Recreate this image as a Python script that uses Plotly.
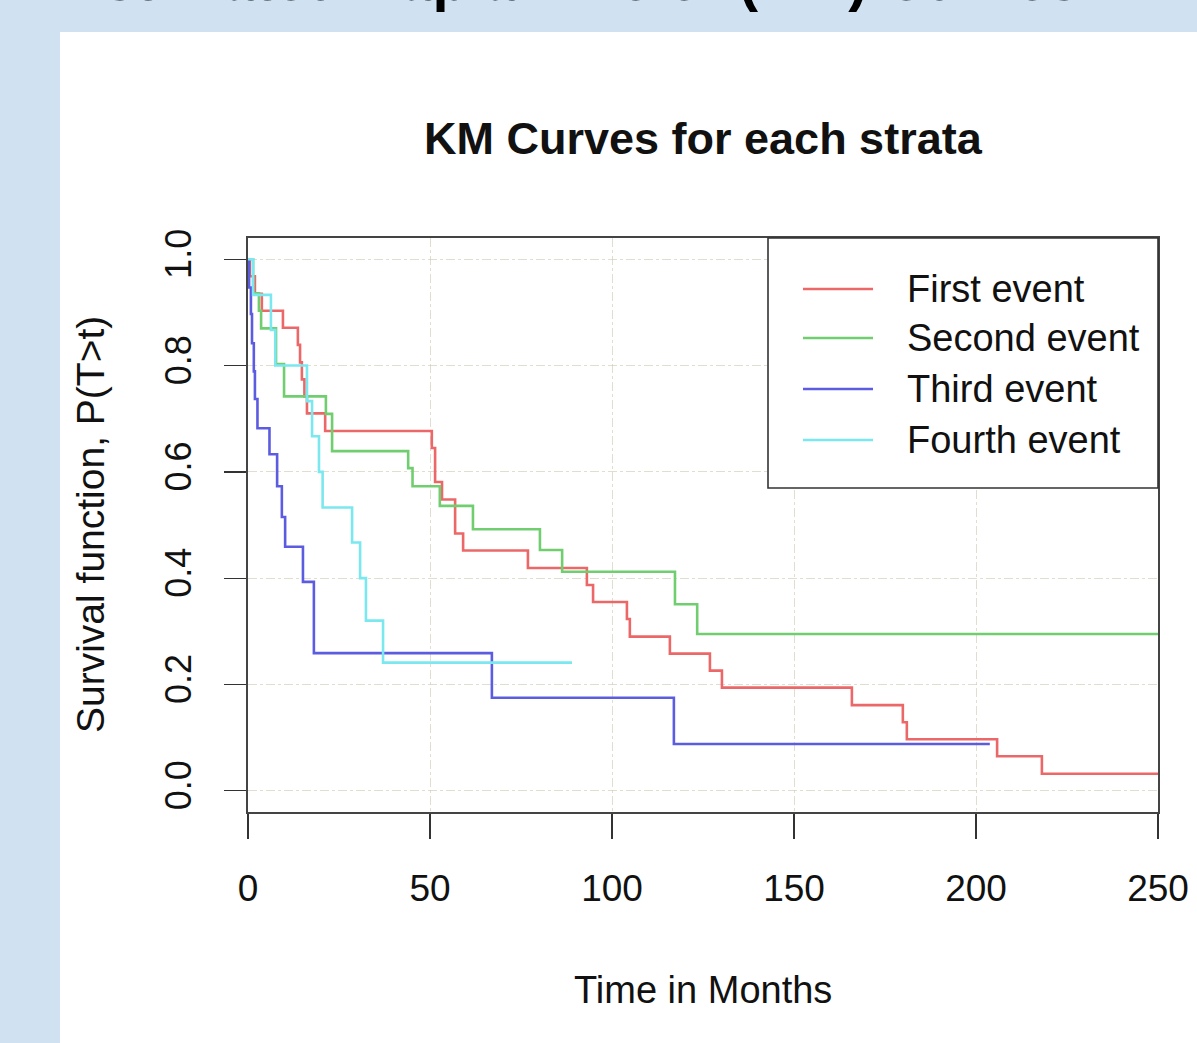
import plotly.graph_objects as go

# ---------------- data ----------------
first_t = [0, 0.5, 1.9, 3.8, 9.6, 13.7, 14.3, 14.8, 15.5, 16.2, 21.2, 50.5, 51.4, 53.3, 56.9, 59.1,
           76.9, 93.1, 94.8, 104.1, 104.9, 115.9, 126.9, 130.2, 165.9, 179.9, 181.0, 205.8, 218.1, 250]
first_s = [1.0, 0.968, 0.935, 0.903, 0.871, 0.839, 0.806, 0.774, 0.742, 0.710, 0.677, 0.645, 0.581, 0.548, 0.484, 0.452,
           0.419, 0.387, 0.355, 0.323, 0.290, 0.258, 0.226, 0.194, 0.161, 0.129, 0.097, 0.065, 0.032, 0.032]

second_t = [0, 1.4, 3.0, 3.6, 7.7, 9.9, 21.4, 23.1, 44.0, 45.2, 52.7, 61.8, 80.2, 86.3, 117.3, 123.4, 250]
second_s = [1.0, 0.936, 0.903, 0.870, 0.803, 0.742, 0.709, 0.639, 0.607, 0.573, 0.536, 0.492, 0.453, 0.412, 0.351, 0.295, 0.295]

third_t = [0, 0.3, 0.8, 1.1, 1.6, 1.9, 2.6, 5.9, 8.0, 9.3, 10.2, 15.1, 18.1, 67.0, 117.0, 203.8]
third_s = [1.0, 0.947, 0.897, 0.842, 0.789, 0.737, 0.682, 0.633, 0.573, 0.515, 0.459, 0.393, 0.259, 0.175, 0.088, 0.088]

fourth_t = [0, 1.4, 6.3, 7.5, 16.2, 17.6, 19.5, 20.5, 28.6, 30.8, 32.4, 37.1, 89.0]
fourth_s = [1.0, 0.933, 0.867, 0.800, 0.733, 0.667, 0.600, 0.533, 0.467, 0.400, 0.320, 0.241, 0.241]

series_names = ["First event", "Second event", "Third event", "Fourth event"]
series_colors = ["rgb(236,104,104)", "rgb(112,206,112)", "rgb(92,92,224)", "rgb(122,232,238)"]

x_ticks = [0, 50, 100, 150, 200, 250]
x_tick_labels = ["0", "50", "100", "150", "200", "250"]
y_ticks = [0.0, 0.2, 0.4, 0.6, 0.8, 1.0]
y_tick_labels = ["0.0", "0.2", "0.4", "0.6", "0.8", "1.0"]

page_title = "Estimated Kaplan-Meier (KM) Curves"
chart_title = "KM Curves for each strata"
x_title = "Time in Months"
y_title = "Survival function, P(T>t)"

# ---------------- figure ----------------
FONT = "Liberation Sans, Arial, Helvetica, sans-serif"
fig = go.Figure()

all_t = [first_t, second_t, third_t, fourth_t]
all_s = [first_s, second_s, third_s, fourth_s]
for name, t, s, c in zip(series_names, all_t, all_s, series_colors):
    fig.add_trace(go.Scatter(x=t, y=s, mode="lines", name=name,
                             line=dict(shape="hv", color=c, width=2.6),
                             showlegend=False, hoverinfo="skip"))

W, H = 1197, 1043
L, R, T, B = 248, 39, 238, 231
pw, ph = W - L - R, H - T - B


def px(xp):
    return (xp - L) / pw


def py(yp):
    return (H - B - yp) / ph


shapes = []
# white slide panel
shapes.append(dict(type="rect", xref="paper", yref="paper", x0=px(60), x1=px(1210),
                   y0=py(1060), y1=py(32), fillcolor="white", line=dict(width=0), layer="below"))
# manual legend box
shapes.append(dict(type="rect", xref="paper", yref="paper", x0=px(768), x1=1.0,
                   y0=py(488), y1=1.0, fillcolor="white",
                   line=dict(color="#333333", width=1.6), layer="above"))
annotations = []
row_y = [289, 338, 389, 440]
for name, c, ry in zip(series_names, series_colors, row_y):
    shapes.append(dict(type="line", xref="paper", yref="paper", x0=px(803), x1=px(873),
                       y0=py(ry), y1=py(ry), line=dict(color=c, width=2.6), layer="above"))
    annotations.append(dict(text=name, xref="paper", yref="paper", x=px(905), y=py(ry),
                            xanchor="left", yanchor="middle", showarrow=False,
                            font=dict(family=FONT, size=38, color="#111111")))

annotations += [
    dict(text="<b>" + page_title + "</b>", xref="paper", yref="paper", x=px(63), y=py(14),
         xanchor="left", yanchor="bottom", showarrow=False,
         font=dict(family=FONT, size=58, color="black")),
    dict(text="<b>" + chart_title + "</b>", xref="paper", yref="paper", x=0.5, y=py(138),
         xanchor="center", yanchor="middle", showarrow=False,
         font=dict(family=FONT, size=45, color="#111111")),
    dict(text=x_title, xref="paper", yref="paper", x=0.5, y=py(990),
         xanchor="center", yanchor="middle", showarrow=False,
         font=dict(family=FONT, size=38, color="#111111")),
    dict(text=y_title, xref="paper", yref="paper", x=px(90), y=0.5, textangle=-90,
         xanchor="center", yanchor="middle", showarrow=False,
         font=dict(family=FONT, size=39, color="#111111")),
]

grid_col = "rgba(205,200,175,0.6)"
fig.update_layout(
    width=W, height=H,
    margin=dict(l=L, r=R, t=T, b=B, autoexpand=False),
    paper_bgcolor="rgb(208,226,242)",
    plot_bgcolor="white",
    showlegend=False,
    shapes=shapes,
    annotations=annotations,
    xaxis=dict(range=[0, 250], tickvals=x_ticks, ticktext=x_tick_labels,
               ticks="outside", ticklen=25, tickwidth=1.3, tickcolor="#333333",
               ticklabelstandoff=17,
               showline=True, mirror=True, linecolor="#444444", linewidth=2.2,
               showgrid=True, gridcolor=grid_col, griddash="dashdot", gridwidth=1,
               zeroline=False,
               tickfont=dict(family=FONT, size=37, color="#111111")),
    yaxis=dict(range=[-0.04, 1.04], tickvals=y_ticks, ticktext=y_tick_labels,
               ticks="outside", ticklen=22, tickwidth=1.3, tickcolor="#333333",
               tickangle=-90, ticklabelstandoff=18,
               showline=True, mirror=True, linecolor="#444444", linewidth=2.2,
               showgrid=True, gridcolor=grid_col, griddash="dashdot", gridwidth=1,
               zeroline=False,
               tickfont=dict(family=FONT, size=36, color="#111111")),
)

fig.write_html(
    "out.html",
    config={"displayModeBar": False, "staticPlot": True},
    post_script="document.body.style.margin='0';document.body.style.overflow='hidden';"
                "document.body.style.background='rgb(208,226,242)';",
)
